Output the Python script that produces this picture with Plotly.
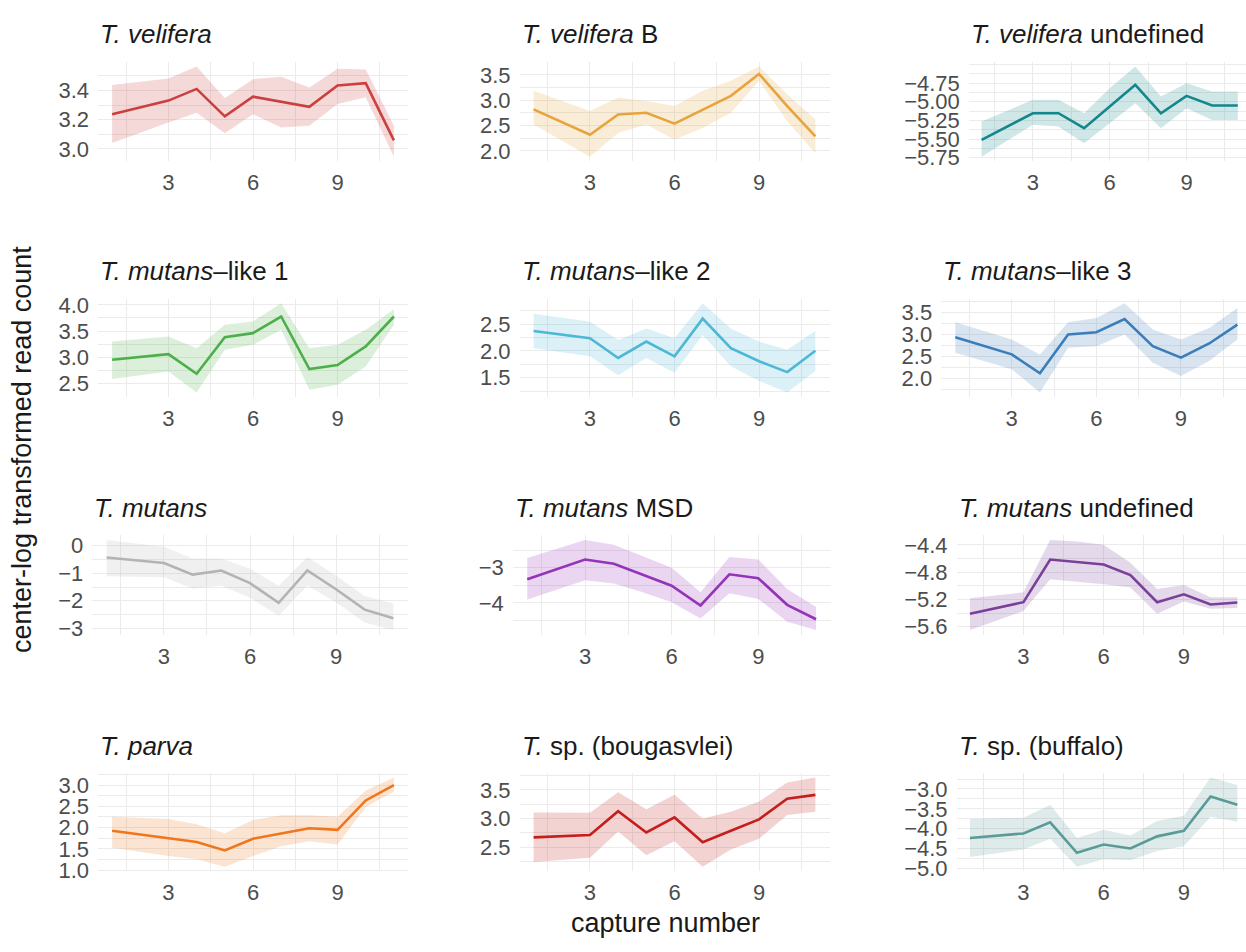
import plotly.graph_objects as go

W, H = 1246, 952

# capture numbers sampled (capture 2 absent)
capture = [1, 3, 4, 5, 6, 7, 8, 9, 10, 11]

# --- per-taxon clr means and ribbon bounds ---
velifera_mean = [3.237, 3.331, 3.411, 3.223, 3.358, 3.324, 3.288, 3.434, 3.451, 3.058]
velifera_lo = [3.040, 3.181, 3.248, 3.107, 3.237, 3.147, 3.159, 3.308, 3.353, 2.946]
velifera_hi = [3.438, 3.483, 3.565, 3.349, 3.478, 3.494, 3.420, 3.550, 3.545, 3.159]

veliferaB_mean = [2.82, 2.32, 2.72, 2.753, 2.54, 2.82, 3.087, 3.52, 2.887, 2.287]
veliferaB_lo = [2.52, 1.887, 2.353, 2.52, 2.22, 2.453, 2.753, 3.387, 2.587, 1.953]
veliferaB_hi = [3.187, 2.787, 3.053, 2.987, 2.887, 3.187, 3.387, 3.667, 3.12, 2.62]

veliferaU_mean = [-5.512, -5.154, -5.154, -5.355, -5.064, -4.772, -5.154, -4.92, -5.05, -5.05]
veliferaU_lo = [-5.737, -5.31, -5.333, -5.557, -5.288, -5.019, -5.355, -5.086, -5.243, -5.243]
veliferaU_hi = [-5.266, -4.974, -4.974, -5.154, -4.817, -4.526, -4.929, -4.75, -4.862, -4.862]

mlike1_mean = [2.956, 3.063, 2.69, 3.386, 3.462, 3.778, 2.778, 2.854, 3.209, 3.778]
mlike1_lo = [2.589, 2.734, 2.335, 3.146, 3.24, 3.525, 2.386, 2.481, 2.829, 3.62]
mlike1_hi = [3.304, 3.399, 3.177, 3.62, 3.684, 4.032, 3.177, 3.24, 3.525, 3.918]

mlike2_mean = [2.371, 2.236, 1.868, 2.175, 1.899, 2.604, 2.052, 1.807, 1.604, 2.003]
mlike2_lo = [2.052, 1.899, 1.543, 1.868, 1.592, 2.298, 1.715, 1.439, 1.224, 1.623]
mlike2_hi = [2.696, 2.543, 2.206, 2.42, 2.236, 2.893, 2.42, 2.175, 2.021, 2.377]

mlike3_mean = [2.938, 2.548, 2.12, 2.998, 3.05, 3.35, 2.735, 2.473, 2.795, 3.223]
mlike3_lo = [2.585, 2.21, 1.685, 2.698, 2.735, 2.998, 2.36, 2.06, 2.398, 2.885]
mlike3_hi = [3.275, 2.885, 2.548, 3.275, 3.373, 3.71, 3.11, 2.885, 3.148, 3.598]

mutans_mean = [-0.432, -0.63, -1.049, -0.901, -1.358, -2.074, -0.901, -1.58, -2.321, -2.63]
mutans_lo = [-1.111, -1.148, -1.556, -1.457, -1.889, -2.543, -1.457, -2.049, -2.79, -3.062]
mutans_hi = [0.21, -0.037, -0.469, -0.469, -0.84, -1.457, -0.407, -1.086, -1.827, -2.099]

msd_mean = [-3.327, -2.766, -2.888, -3.206, -3.514, -4.075, -3.187, -3.299, -4.056, -4.467]
msd_lo = [-3.907, -3.355, -3.449, -3.701, -3.981, -4.449, -3.729, -3.888, -4.542, -4.776]
msd_hi = [-2.72, -2.206, -2.346, -2.673, -3.0, -3.701, -2.692, -2.766, -3.607, -4.121]

mutansU_mean = [-5.408, -5.24, -4.616, -4.65, -4.688, -4.842, -5.24, -5.125, -5.274, -5.245]
mutansU_lo = [-5.648, -5.37, -4.904, -4.942, -4.976, -5.024, -5.408, -5.23, -5.336, -5.326]
mutansU_hi = [-5.183, -5.096, -4.328, -4.352, -4.4, -4.664, -5.048, -4.99, -5.168, -5.168]

parva_mean = [1.923, 1.754, 1.662, 1.462, 1.738, 1.862, 1.985, 1.946, 2.638, 3.0]
parva_lo = [1.523, 1.331, 1.254, 1.077, 1.331, 1.562, 1.677, 1.6, 2.485, 2.846]
parva_hi = [2.254, 2.2, 2.077, 1.869, 2.177, 2.292, 2.292, 2.254, 2.869, 3.177]

boug_mean = [2.671, 2.711, 3.129, 2.757, 3.02, 2.586, 2.786, 2.986, 3.346, 3.414]
boug_lo = [2.243, 2.317, 2.774, 2.357, 2.603, 2.157, 2.46, 2.649, 3.06, 3.117]
boug_hi = [3.106, 3.1, 3.46, 3.163, 3.414, 3.003, 3.117, 3.3, 3.631, 3.717]

buff_mean = [-4.235, -4.119, -3.84, -4.605, -4.399, -4.498, -4.193, -4.053, -3.189, -3.395]
buff_lo = [-4.712, -4.523, -4.251, -4.959, -4.77, -4.794, -4.564, -4.44, -3.7, -3.823]
buff_hi = [-3.757, -3.724, -3.395, -4.235, -4.029, -4.169, -3.807, -3.675, -2.712, -2.901]

titles = [
    "<i>T. velifera</i>", "<i>T. velifera</i> B", "<i>T. velifera</i> undefined",
    "<i>T. mutans</i>–like 1", "<i>T. mutans</i>–like 2", "<i>T. mutans</i>–like 3",
    "<i>T. mutans</i>", "<i>T. mutans</i> MSD", "<i>T. mutans</i> undefined",
    "<i>T. parva</i>", "<i>T.</i> sp. (bougasvlei)", "<i>T.</i> sp. (buffalo)",
]
colors = [
    "#cc3f3f", "#e8a33d", "#14868c",
    "#4daf4a", "#4cb8d6", "#3a7dbb",
    "#b3b3b3", "#9434b8", "#7a3f98",
    "#f0761c", "#c41f1c", "#5a9a98",
]
series = [
    (velifera_mean, velifera_lo, velifera_hi),
    (veliferaB_mean, veliferaB_lo, veliferaB_hi),
    (veliferaU_mean, veliferaU_lo, veliferaU_hi),
    (mlike1_mean, mlike1_lo, mlike1_hi),
    (mlike2_mean, mlike2_lo, mlike2_hi),
    (mlike3_mean, mlike3_lo, mlike3_hi),
    (mutans_mean, mutans_lo, mutans_hi),
    (msd_mean, msd_lo, msd_hi),
    (mutansU_mean, mutansU_lo, mutansU_hi),
    (parva_mean, parva_lo, parva_hi),
    (boug_mean, boug_lo, boug_hi),
    (buff_mean, buff_lo, buff_hi),
]
# y-axis breaks per panel
y_ticks = [
    [3.0, 3.2, 3.4],
    [2.0, 2.5, 3.0, 3.5],
    [-5.75, -5.5, -5.25, -5.0, -4.75],
    [2.5, 3.0, 3.5, 4.0],
    [1.5, 2.0, 2.5],
    [2.0, 2.5, 3.0, 3.5],
    [-3, -2, -1, 0],
    [-4, -3],
    [-5.6, -5.2, -4.8, -4.4],
    [1.0, 1.5, 2.0, 2.5, 3.0],
    [2.5, 3.0, 3.5],
    [-5.0, -4.5, -4.0, -3.5, -3.0],
]
y_fmt = [".1f", ".1f", ".2f", ".1f", ".1f", ".1f", "d", "d", ".1f", ".1f", ".1f", ".1f"]
x_ticks = [3, 6, 9]

# panel boxes in pixels: (left, right, top, bottom)
row_tb = [(57, 158), (298, 398), (539, 640), (781, 881)]
col_lr = [
    [(98, 408), (519.5, 829.5), (968.8, 1250.6)],
    [(98, 408), (519.5, 829.5), (941.2, 1251.5)],
    [(92.3, 407.7), (512.8, 830.5), (956.6, 1250.7)],
    [(98, 408), (519.5, 829.5), (956.6, 1250.7)],
]

FONT = "Liberation Sans, Arial, Helvetica, sans-serif"
GRID = "#ebebeb"
TICK_SIZE = 22
TITLE_SIZE = 26
AXIS_TITLE_SIZE = 27

fig = go.Figure()
annotations = []
layout_axes = {}

for i in range(12):
    r, c = divmod(i, 3)
    left, right = col_lr[r][c]
    top, bottom = row_tb[r]
    xmin, xmax = 0.5, 11.5
    if right > W:
        xmax = xmin + (W - left) / (right - left) * (11.5 - 0.5)
        right = W
    mean, lo, hi = series[i]
    ymin, ymax = min(lo), max(hi)
    pad = (ymax - ymin) * 0.05
    yt = y_ticks[i]
    ystep = yt[1] - yt[0]
    n = "" if i == 0 else str(i + 1)
    xa, ya = "x" + n, "y" + n

    fig.add_trace(go.Scatter(
        x=capture + capture[::-1], y=hi + lo[::-1],
        fill="toself", fillcolor=colors[i], opacity=0.2,
        line=dict(width=0), mode="lines", hoverinfo="skip",
        showlegend=False, xaxis=xa, yaxis=ya,
    ))
    fig.add_trace(go.Scatter(
        x=capture, y=mean, mode="lines",
        line=dict(color=colors[i], width=2.6),
        showlegend=False, xaxis=xa, yaxis=ya,
    ))

    layout_axes["xaxis" + n] = dict(
        domain=[left / W, right / W], anchor=ya, range=[xmin, xmax],
        tickmode="array", tickvals=x_ticks,
        showgrid=True, gridcolor=GRID, gridwidth=1.4,
        minor=dict(tickmode="linear", dtick=1.5, tick0=0, showgrid=True,
                   gridcolor=GRID, gridwidth=0.9),
        zeroline=False, showline=False, ticks="",
        tickfont=dict(family=FONT, size=TICK_SIZE, color="#4d4d4d"),
        ticklabelstandoff=6, fixedrange=True,
    )
    layout_axes["yaxis" + n] = dict(
        domain=[1 - bottom / H, 1 - top / H], anchor=xa,
        range=[ymin - pad, ymax + pad],
        tickmode="array", tickvals=yt, tickformat=y_fmt[i],
        showgrid=True, gridcolor=GRID, gridwidth=1.4,
        minor=dict(tickmode="linear", dtick=ystep / 2, tick0=yt[0], showgrid=True,
                   gridcolor=GRID, gridwidth=0.9),
        zeroline=False, showline=False, ticks="",
        tickfont=dict(family=FONT, size=TICK_SIZE, color="#4d4d4d"),
        ticklabelstandoff=8, fixedrange=True,
    )
    annotations.append(dict(
        text=titles[i], xref="paper", yref="paper",
        x=left / W, y=1 - (top - 28) / H, xanchor="left", yanchor="middle",
        showarrow=False, font=dict(family=FONT, size=TITLE_SIZE, color="#1a1a1a"),
    ))

annotations.append(dict(
    text="capture number", xref="paper", yref="paper",
    x=665 / W, y=1 - 934 / H, xanchor="center", yanchor="middle",
    showarrow=False, font=dict(family=FONT, size=AXIS_TITLE_SIZE, color="#1a1a1a"),
))
annotations.append(dict(
    text="center-log transformed read count", xref="paper", yref="paper",
    x=22 / W, y=1 - 452 / H, xanchor="center", yanchor="middle", textangle=-90,
    showarrow=False, font=dict(family=FONT, size=AXIS_TITLE_SIZE, color="#1a1a1a"),
))

fig.update_layout(
    width=W, height=H, margin=dict(l=0, r=0, t=0, b=0),
    paper_bgcolor="white", plot_bgcolor="white",
    annotations=annotations, showlegend=False,
    **layout_axes,
)

fig.write_html("out.html", include_plotlyjs=True, config={"displayModeBar": False})
